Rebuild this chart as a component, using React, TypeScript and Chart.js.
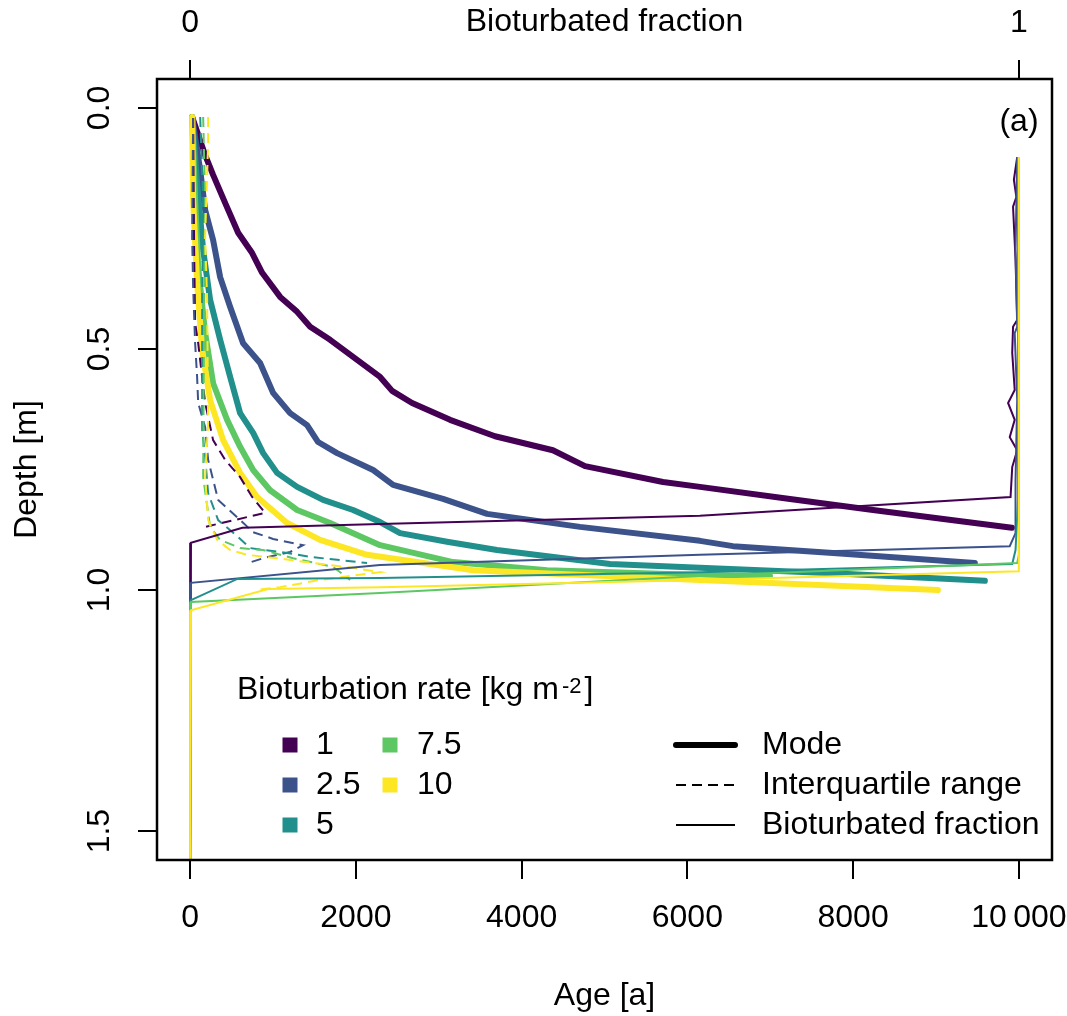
import React, { useEffect, useRef } from "react";
import { Chart, registerables } from "chart.js";
Chart.register(...registerables);

const FONT = "'Liberation Sans', Arial, Helvetica, sans-serif";

const rates = ["1", "2.5", "5", "7.5", "10"];
const colors = ["#440154", "#3B528B", "#21908C", "#5DC863", "#FDE725"];

// Mode (thick lines): age [a] vs depth [m]
const mode1Age = [24, 181, 277, 422, 579, 748, 869, 1086, 1291, 1448, 1689, 2292, 2437, 2678, 3136, 3679, 4377, 4765, 5706, 6152, 7238, 8239, 9916];
const mode1Depth = [0.019, 0.098, 0.139, 0.197, 0.259, 0.301, 0.342, 0.392, 0.423, 0.454, 0.481, 0.558, 0.587, 0.612, 0.647, 0.681, 0.71, 0.743, 0.776, 0.786, 0.811, 0.834, 0.871];
const mode2Age = [24, 121, 181, 277, 362, 483, 639, 844, 1001, 1206, 1411, 1544, 1773, 2208, 2449, 3052, 3583, 4705, 6152, 6550, 7757, 9469];
const mode2Depth = [0.019, 0.129, 0.212, 0.274, 0.351, 0.413, 0.488, 0.529, 0.591, 0.633, 0.658, 0.693, 0.716, 0.751, 0.782, 0.811, 0.842, 0.869, 0.898, 0.909, 0.923, 0.944];
const mode3Age = [24, 84, 157, 241, 362, 483, 603, 760, 881, 1049, 1291, 1604, 1966, 2292, 2533, 3100, 3703, 5067, 6152, 7757, 9590];
const mode3Depth = [0.019, 0.156, 0.295, 0.398, 0.481, 0.558, 0.633, 0.674, 0.716, 0.757, 0.786, 0.813, 0.834, 0.859, 0.882, 0.9, 0.917, 0.946, 0.954, 0.965, 0.981];
const mode4Age = [24, 60, 97, 181, 277, 446, 603, 760, 965, 1291, 1689, 2292, 3173, 4307, 6152, 6997];
const mode4Depth = [0.019, 0.191, 0.33, 0.467, 0.571, 0.647, 0.703, 0.751, 0.793, 0.834, 0.861, 0.907, 0.942, 0.959, 0.969, 0.971];
const mode5Age = [24, 36, 84, 145, 241, 398, 603, 808, 1170, 1568, 2135, 3414, 6152, 9023];
const mode5Depth = [0.019, 0.191, 0.363, 0.502, 0.606, 0.689, 0.757, 0.807, 0.861, 0.896, 0.927, 0.959, 0.979, 1.0];

// Interquartile range (dashed lines)
const iqr1Age = [36, 48, 60, 97, 181, 277, 422, 603, 748, 905, 181];
const iqr1Depth = [0.021, 0.295, 0.446, 0.488, 0.612, 0.689, 0.73, 0.766, 0.807, 0.84, 0.869];
const iqr2Age = [36, 24, 36, 60, 84, 97, 181, 217, 338, 567, 760, 1001, 1363, 1206, 881, 700];
const iqr2Depth = [0.021, 0.268, 0.371, 0.488, 0.558, 0.612, 0.662, 0.73, 0.813, 0.849, 0.88, 0.894, 0.907, 0.921, 0.934, 0.944];
const iqr3Age = [121, 157, 145, 145, 181, 217, 338, 579, 724, 1086, 1484, 2135];
const iqr3Depth = [0.019, 0.191, 0.398, 0.668, 0.724, 0.799, 0.855, 0.89, 0.913, 0.921, 0.932, 0.944];
const iqr4Age = [157, 181, 169, 157, 241, 362, 603, 881, 1242, 1725, 1930];
const iqr4Depth = [0.019, 0.191, 0.398, 0.766, 0.869, 0.896, 0.913, 0.917, 0.934, 0.952, 0.979];
const iqr5Age = [217, 217, 181, 205, 217, 181, 217, 326, 483, 688, 1049, 1484, 1966, 2292, 1568, 1086, 808];
const iqr5Depth = [0.019, 0.073, 0.268, 0.398, 0.654, 0.766, 0.855, 0.896, 0.917, 0.927, 0.934, 0.944, 0.954, 0.963, 0.979, 0.994, 1.0];

// Bioturbated fraction (thin lines): fraction vs depth [m]
const frac1 = [0.998, 0.994, 0.997, 0.993, 0.996, 0.998, 0.993, 0.992, 0.995, 0.987, 0.995, 0.989, 0.998, 0.992, 0.99, 0.615, 0.229, 0.063, 0.001, 0];
const frac1Depth = [0.102, 0.149, 0.185, 0.205, 0.315, 0.44, 0.454, 0.508, 0.585, 0.612, 0.647, 0.683, 0.71, 0.745, 0.807, 0.846, 0.863, 0.871, 0.902, 1.56];
const frac2 = [0.998, 0.996, 0.998, 0.995, 0.998, 0.996, 0.996, 0.989, 0.615, 0.229, 0.001, 0];
const frac2Depth = [0.102, 0.295, 0.454, 0.467, 0.606, 0.772, 0.882, 0.909, 0.927, 0.948, 0.985, 1.56];
const frac3 = [0.999, 0.999, 0.996, 0.992, 0.615, 0.229, 0.057, 0.001, 0];
const frac3Depth = [0.102, 0.813, 0.917, 0.946, 0.963, 0.975, 0.977, 1.021, 1.56];
const frac4 = [1.0, 1.0, 0.998, 0.615, 0.229, 0.001, 0];
const frac4Depth = [0.102, 0.927, 0.944, 0.971, 1.006, 1.025, 1.56];
const frac5 = [1.0, 1.0, 0.615, 0.229, 0.094, 0.001, 0];
const frac5Depth = [0.102, 0.961, 0.979, 0.994, 0.998, 1.042, 1.56];

const modeAges = [mode1Age, mode2Age, mode3Age, mode4Age, mode5Age];
const modeDepths = [mode1Depth, mode2Depth, mode3Depth, mode4Depth, mode5Depth];
const iqrAges = [iqr1Age, iqr2Age, iqr3Age, iqr4Age, iqr5Age];
const iqrDepths = [iqr1Depth, iqr2Depth, iqr3Depth, iqr4Depth, iqr5Depth];
const fracs = [frac1, frac2, frac3, frac4, frac5];
const fracDepths = [frac1Depth, frac2Depth, frac3Depth, frac4Depth, frac5Depth];

// Axes
const xTicks = [0, 2000, 4000, 6000, 8000, 10000];
const xTickLabels = ["0", "2000", "4000", "6000", "8000", "10\u2009000"];
const topTicks = [0, 1];
const topTickLabels = ["0", "1"];
const yTicks = [0, 0.5, 1.0, 1.5];
const yTickLabels = ["0.0", "0.5", "1.0", "1.5"];

const legendTitle = "Bioturbation rate [kg m";
const legendSup = "-2";
const lineLegend = ["Mode", "Interquartile range", "Bioturbated fraction"];

const DASH = [10, 6];

const overlay = {
  id: "overlay",
  afterDraw(chart: any) {
    const ctx = chart.ctx;
    const a = chart.chartArea;
    ctx.save();
    // box
    ctx.strokeStyle = "#000";
    ctx.lineWidth = 2.5;
    ctx.setLineDash([]);
    ctx.strokeRect(a.left, a.top, a.right - a.left, a.bottom - a.top);

    ctx.fillStyle = "#000";
    ctx.font = `32px ${FONT}`;
    // y tick labels rotated
    const ys = chart.scales.y;
    ys.ticks.forEach((t: any, i: number) => {
      const py = ys.getPixelForValue(t.value);
      ctx.save();
      ctx.translate(100, py);
      ctx.rotate(-Math.PI / 2);
      ctx.textAlign = "center";
      ctx.textBaseline = "middle";
      ctx.fillText(yTickLabels[i], 0, 0);
      ctx.restore();
    });
    // axis titles
    const cx = (a.left + a.right) / 2;
    ctx.textAlign = "center";
    ctx.textBaseline = "middle";
    ctx.fillText("Age [a]", cx, 996);
    ctx.fillText("Bioturbated fraction", cx, 22);
    ctx.save();
    ctx.translate(27, (a.top + a.bottom) / 2);
    ctx.rotate(-Math.PI / 2);
    ctx.fillText("Depth [m]", 0, 0);
    ctx.restore();
    // panel label
    ctx.fillText("(a)", 1019, 122);

    // legend: colours
    ctx.textAlign = "left";
    ctx.textBaseline = "middle";
    ctx.fillText(legendTitle, 237, 690);
    const w = ctx.measureText(legendTitle).width;
    ctx.font = `22px ${FONT}`;
    ctx.textBaseline = "alphabetic";
    ctx.fillText(legendSup, 237 + w + 3, 693);
    const w2 = ctx.measureText(legendSup).width;
    ctx.font = `32px ${FONT}`;
    ctx.textBaseline = "middle";
    ctx.fillText("]", 237 + w + 3 + w2 + 3, 690);

    const colX = [290, 390];
    const labX = [316, 417];
    const rowY = [745, 785, 825];
    rates.forEach((r, i) => {
      const c = i < 3 ? 0 : 1;
      const row = i < 3 ? i : i - 3;
      ctx.fillStyle = colors[i];
      ctx.fillRect(colX[c] - 7.5, rowY[row] - 7.5, 15, 15);
      ctx.fillStyle = "#000";
      ctx.fillText(r, labX[c], rowY[row]);
    });

    // legend: line types
    const lw = [6, 2, 2];
    lineLegend.forEach((lab, i) => {
      ctx.strokeStyle = "#000";
      ctx.lineWidth = lw[i];
      ctx.lineCap = i === 0 ? "round" : "butt";
      ctx.setLineDash(i === 1 ? DASH : []);
      ctx.beginPath();
      ctx.moveTo(676, rowY[i]);
      ctx.lineTo(735, rowY[i]);
      ctx.stroke();
      ctx.setLineDash([]);
      ctx.fillText(lab, 762, rowY[i]);
    });
    ctx.restore();
  },
};

function toPoints(xs: number[], ys: number[]) {
  return xs.map((x, i) => ({ x, y: ys[i] }));
}

export default function App() {
  const ref = useRef<HTMLCanvasElement | null>(null);
  useEffect(() => {
    document.body.style.margin = "0";
    Chart.defaults.font.family = FONT;
    const datasets: any[] = [];
    rates.forEach((r, i) => {
      datasets.push({
        label: `Mode ${r}`,
        data: toPoints(modeAges[i], modeDepths[i]),
        borderColor: colors[i],
        borderWidth: 6,
        borderCapStyle: "round",
        borderJoinStyle: "round",
        xAxisID: "x",
        yAxisID: "y",
      });
    });
    rates.forEach((r, i) => {
      datasets.push({
        label: `IQR ${r}`,
        data: toPoints(iqrAges[i], iqrDepths[i]),
        borderColor: colors[i],
        borderWidth: 2,
        borderDash: DASH,
        xAxisID: "x",
        yAxisID: "y",
      });
    });
    rates.forEach((r, i) => {
      datasets.push({
        label: `Fraction ${r}`,
        data: toPoints(fracs[i], fracDepths[i]),
        borderColor: colors[i],
        borderWidth: 2,
        xAxisID: "x2",
        yAxisID: "y",
      });
    });
    const n = datasets.length;
    datasets.forEach((d, i) => {
      d.order = n - i;
      d.showLine = true;
      d.pointRadius = 0;
      d.pointHoverRadius = 0;
      d.fill = false;
      d.tension = 0;
    });

    const tickFont = { family: FONT, size: 32 };
    const grid = {
      drawOnChartArea: false,
      drawTicks: true,
      tickLength: 19,
      color: "#000",
      lineWidth: 2,
    };
    const fitX = (h: number) => (s: any) => {
      s.height = h;
      s.paddingLeft = 0;
      s.paddingRight = 0;
    };
    const chart = new Chart(ref.current as HTMLCanvasElement, {
      type: "scatter",
      data: { datasets },
      plugins: [overlay],
      options: {
        animation: false,
        responsive: false,
        devicePixelRatio: 1,
        layout: { padding: { left: 0, top: 0, right: 15, bottom: 0 } },
        plugins: { legend: { display: false }, tooltip: { enabled: false } },
        events: [],
        scales: {
          x: {
            type: "linear",
            position: "bottom",
            min: -400,
            max: 10400,
            afterBuildTicks: (s: any) => {
              s.ticks = xTicks.map((v) => ({ value: v }));
            },
            afterFit: fitX(156),
            ticks: {
              callback: (_v: any, i: number) => xTickLabels[i],
              font: tickFont,
              color: "#000",
              padding: 20,
              maxRotation: 0,
              minRotation: 0,
              autoSkip: false,
            },
            grid,
            border: { display: false },
          },
          x2: {
            type: "linear",
            position: "top",
            min: -0.04,
            max: 1.04,
            afterBuildTicks: (s: any) => {
              s.ticks = topTicks.map((v) => ({ value: v }));
            },
            afterFit: fitX(79),
            ticks: {
              callback: (_v: any, i: number) => topTickLabels[i],
              font: tickFont,
              color: "#000",
              padding: 18,
              maxRotation: 0,
              minRotation: 0,
              autoSkip: false,
            },
            grid,
            border: { display: false },
          },
          y: {
            type: "linear",
            position: "left",
            reverse: true,
            min: -0.06,
            max: 1.56,
            afterBuildTicks: (s: any) => {
              s.ticks = yTicks.map((v) => ({ value: v }));
            },
            afterFit: (s: any) => {
              s.width = 157;
              s.paddingTop = 0;
              s.paddingBottom = 0;
            },
            ticks: { display: false },
            grid,
            border: { display: false },
          },
        },
      } as any,
    });
    return () => chart.destroy();
  }, []);
  return (
    <div style={{ width: 1067, height: 1016, background: "#fff" }}>
      <canvas ref={ref} width={1067} height={1016} style={{ display: "block" }} />
    </div>
  );
}
